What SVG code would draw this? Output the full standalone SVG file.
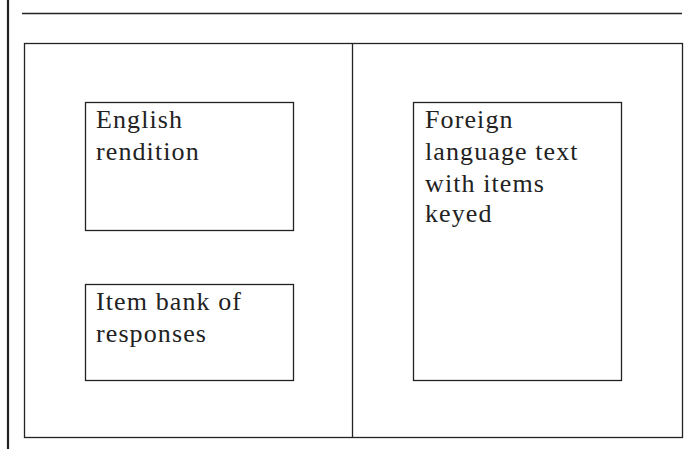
<svg xmlns="http://www.w3.org/2000/svg" width="688" height="449" viewBox="0 0 688 449">
<style>
.box{fill:#fff;stroke:#222;stroke-width:1.3}
.ln{stroke:#222;fill:none}
text{font-family:"Liberation Serif","Times New Roman",serif;font-size:26px;letter-spacing:1.1px;fill:#222}
</style>
<rect width="688" height="449" fill="#fff"/>
<g id="connectors">
<line class="ln" x1="8" y1="0" x2="8" y2="449" stroke-width="2.2"/>
<line class="ln" x1="22" y1="13.5" x2="682" y2="13.5" stroke-width="1.5"/>
</g>
<g id="frame">
<rect class="box" x="24.5" y="43.5" width="658" height="394"/>
<line class="ln" x1="352.5" y1="43.5" x2="352.5" y2="437.5" stroke-width="1.3"/>
</g>
<g id="english">
<rect class="box" x="85.5" y="102.5" width="208" height="128"/>
<text x="96" y="128">English</text>
<text x="96" y="160">rendition</text>
</g>
<g id="itembank">
<rect class="box" x="85.5" y="284.5" width="208" height="96"/>
<text x="96" y="310">Item bank of</text>
<text x="96" y="342">responses</text>
</g>
<g id="foreign">
<rect class="box" x="413.5" y="102.5" width="208" height="278"/>
<text x="425" y="128">Foreign</text>
<text x="425" y="160">language text</text>
<text x="425" y="192">with items</text>
<text x="425" y="222">keyed</text>
</g>
</svg>
